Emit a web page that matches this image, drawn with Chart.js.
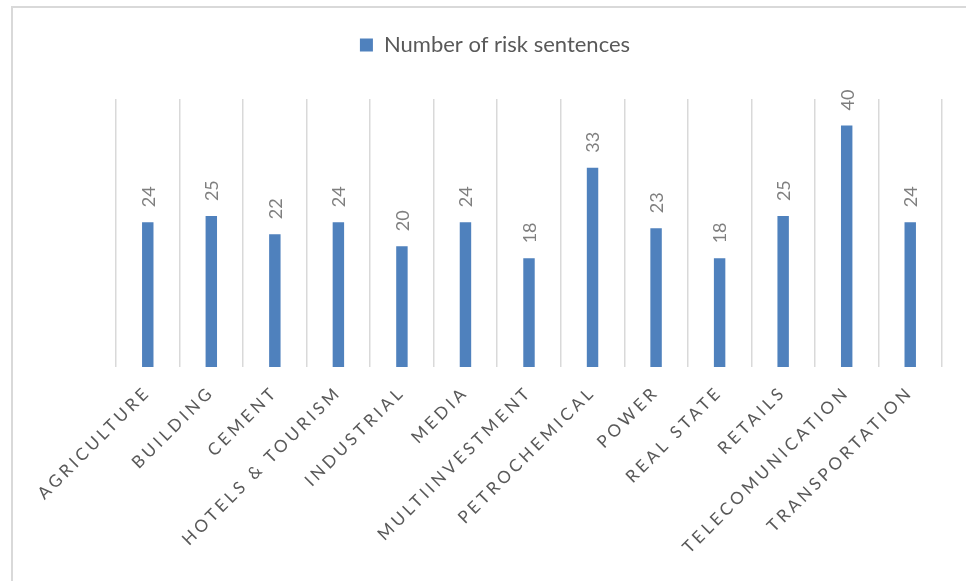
<!DOCTYPE html>
<html>
<head>
<meta charset="utf-8">
<title>Number of risk sentences</title>
<script src="https://cdn.jsdelivr.net/npm/chart.js@4.4.1/dist/chart.umd.min.js"></script>
<style>
  html, body { margin: 0; padding: 0; background: #fff; overflow: hidden; }
  #frame {
    position: absolute; left: 11px; top: 6px; width: 1000px; height: 1000px;
    border-left: 2px solid #d9d9d9; border-top: 2px solid #d9d9d9;
  }
  #wrap { position: absolute; left: 0; top: 0; width: 966px; height: 581px; }
</style>
</head>
<body>
<div id="frame"></div>
<div id="wrap"><canvas id="riskChart" width="966" height="581"></canvas></div>
<script>
// sectors and how many risk sentences each one has
const sectors = [
  "AGRICULTURE", "BUILDING", "CEMENT", "HOTELS & TOURISM", "INDUSTRIAL", "MEDIA",
  "MULTIINVESTMENT", "PETROCHEMICAL", "POWER", "REAL STATE", "RETAILS",
  "TELECOMUNICATION", "TRANSPORTATION"
];
const riskSentences = [24, 25, 22, 24, 20, 24, 18, 33, 23, 18, 25, 40, 24];
const seriesName = "Number of risk sentences";

const FONT = "Lato, 'Open Sans', sans-serif";

// value labels, written upright above each bar
const barValues = {
  id: "barValues",
  afterDatasetsDraw(chart) {
    const ctx = chart.ctx;
    const meta = chart.getDatasetMeta(0);
    ctx.save();
    ctx.font = "18px " + FONT;
    ctx.fillStyle = "#7f7f7f";
    ctx.textAlign = "left";
    ctx.textBaseline = "middle";
    meta.data.forEach((bar, i) => {
      ctx.save();
      ctx.translate(bar.x + 1, bar.y - 15);
      ctx.rotate(-Math.PI / 2);
      ctx.fillText(String(riskSentences[i]), 0, 0);
      ctx.restore();
    });
    ctx.restore();
    // category labels are drawn after this (ticks z: 1), spaced out like the original
    ctx.letterSpacing = "3.5px";
  },
  afterDraw(chart) {
    chart.ctx.letterSpacing = "0px";
  },
  beforeLayout(chart) {
    // extra room between the legend and the plot
    const lg = chart.legend;
    if (lg && !lg._padded) {
      const fit = lg.fit;
      lg.fit = function () {
        fit.call(this);
        this.height += 33;
      };
      lg._padded = true;
    }
  }
};

new Chart(document.getElementById("riskChart"), {
  type: "bar",
  data: {
    labels: sectors,
    datasets: [{
      label: seriesName,
      data: riskSentences,
      backgroundColor: "#4f81bd",
      borderWidth: 0,
      categoryPercentage: 1,
      barPercentage: 0.18
    }]
  },
  options: {
    responsive: false,
    animation: false,
    layout: { padding: { left: 48, right: 24, top: 24, bottom: 0 } },
    plugins: {
      legend: {
        position: "top",
        labels: {
          boxWidth: 13,
          boxHeight: 13,
          padding: 10,
          color: "#595959",
          font: { family: FONT, size: 22 }
        }
      },
      tooltip: { enabled: false }
    },
    scales: {
      x: {
        offset: true,
        grid: { display: true, offset: true, color: "#d9d9d9", lineWidth: 1.5, drawTicks: false },
        border: { display: false },
        ticks: {
          z: 1,
          autoSkip: false,
          maxRotation: 45,
          minRotation: 45,
          padding: 15,
          color: "#595959",
          font: { family: FONT, size: 17 }
        },
        afterFit(scale) { scale.height = 214; }
      },
      y: {
        min: 0,
        max: 44.4,
        grid: { display: false },
        border: { display: false },
        ticks: { display: false },
        afterFit(scale) { scale.width = 68; }
      }
    }
  },
  plugins: [barValues]
});
</script>
</body>
</html>
